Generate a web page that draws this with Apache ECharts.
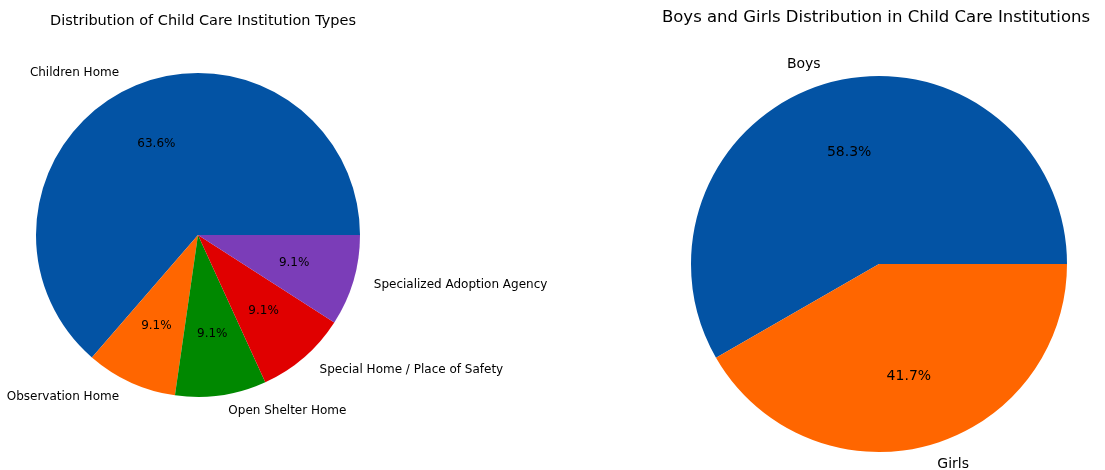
<!DOCTYPE html>
<html>
<head>
<meta charset="utf-8">
<script src="https://cdn.jsdelivr.net/npm/echarts@6/dist/echarts.min.js"></script>
<style>
html,body{margin:0;padding:0;background:#fff;}
#chart{width:1105px;height:470px;}
</style>
</head>
<body>
<div id="chart"></div>
<script>
const typeCategories = ['Children Home', 'Observation Home', 'Open Shelter Home', 'Special Home / Place of Safety', 'Specialized Adoption Agency'];
const typeValues = [7, 1, 1, 1, 1];
const typeColors = ['#0353A4', '#FF6600', '#008800', '#E00000', '#7B3DB8'];

const genderCategories = ['Boys', 'Girls'];
const genderValues = [58.3, 41.7];
const genderColors = ['#0353A4', '#FF6600'];

const leftTitle = 'Distribution of Child Care Institution Types';
const rightTitle = 'Boys and Girls Distribution in Child Care Institutions';

const FONT = 'DejaVu Sans';

function mk(names, vals, colors) {
  return names.map((n, i) => ({ name: n, value: vals[i], itemStyle: { color: colors[i] } }));
}
function mkT(names, vals) {
  return names.map((n, i) => ({ name: n, value: vals[i], itemStyle: { color: 'rgba(0,0,0,0)' } }));
}

const L = { cx: 198, cy: 235, r: 162, gap: 16 };
const R = { cx: 879, cy: 264, r: 188, gap: 19 };

function pieSeries(c, names, vals, colors, nameSize, pctSize) {
  return [
    {
      type: 'pie', center: [c.cx, c.cy], radius: [0, c.r],
      startAngle: 0, clockwise: false, avoidLabelOverlap: false, silent: true,
      data: mk(names, vals, colors),
      itemStyle: { borderWidth: 0 },
      label: { show: true, position: 'outside', formatter: '{b}', fontFamily: FONT, fontSize: nameSize, color: '#000' },
      labelLine: { show: false, length: c.gap, length2: 0 }
    },
    {
      type: 'pie', center: [c.cx, c.cy], radius: [c.r * 0.2, c.r],
      startAngle: 0, clockwise: false, avoidLabelOverlap: false, silent: true,
      data: mkT(names, vals),
      label: { show: true, position: 'inside', formatter: p => p.percent.toFixed(1) + '%', fontFamily: FONT, fontSize: pctSize, color: '#000' },
      labelLine: { show: false }
    }
  ];
}

const chart = echarts.init(document.getElementById('chart'), null, { renderer: 'canvas' });
chart.setOption({
  animation: false,
  backgroundColor: '#fff',
  title: [
    { text: leftTitle, left: 198, top: 9, textAlign: 'center', textStyle: { fontFamily: FONT, fontSize: 14.5, fontWeight: 'normal', color: '#000' } },
    { text: rightTitle, left: 871, top: 4, textAlign: 'center', textStyle: { fontFamily: FONT, fontSize: 16.5, fontWeight: 'normal', color: '#000' } }
  ],
  series: [
    ...pieSeries(L, typeCategories, typeValues, typeColors, 12, 12),
    ...pieSeries(R, genderCategories, genderValues, genderColors, 14, 14)
  ]
});
</script>
</body>
</html>
